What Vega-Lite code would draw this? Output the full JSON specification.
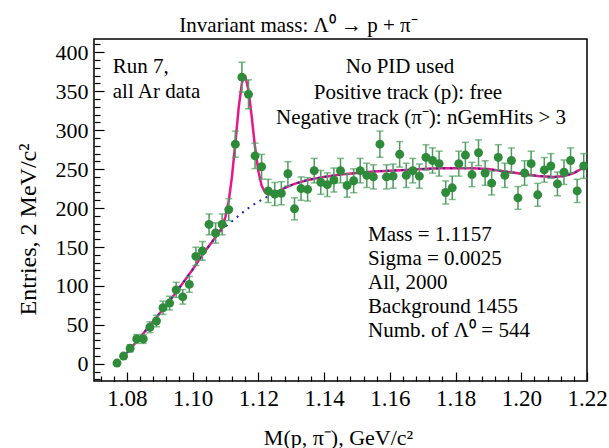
{
  "$schema": "https://vega.github.io/schema/vega-lite/v6.json",
  "width": 493,
  "height": 342,
  "autosize": {"type": "none"},
  "padding": {"left": 94, "top": 39, "right": 22, "bottom": 67},
  "background": "white",
  "config": {
    "view": {"stroke": "#000000", "strokeWidth": 1.5},
    "font": "Liberation Serif"
  },
  "title": {
    "text": "Invariant mass: Λ⁰ → p + π⁻",
    "font": "Liberation Serif",
    "fontSize": 21,
    "fontWeight": "normal",
    "color": "#000000",
    "anchor": "middle",
    "dx": -42,
    "dy": 28,
    "offset": 8,
    "baseline": "alphabetic"
  },
  "datasets": {
    "pts": [
      {"x": 1.077, "y": 1, "e": 1.0}, {"x": 1.079, "y": 10, "e": 3.2}, {"x": 1.081, "y": 20, "e": 4.5},
      {"x": 1.083, "y": 32, "e": 5.7}, {"x": 1.085, "y": 32, "e": 5.7}, {"x": 1.087, "y": 47, "e": 6.9},
      {"x": 1.089, "y": 55, "e": 7.4}, {"x": 1.091, "y": 72, "e": 8.5}, {"x": 1.093, "y": 78, "e": 8.8},
      {"x": 1.095, "y": 95, "e": 9.7}, {"x": 1.097, "y": 86, "e": 9.3}, {"x": 1.099, "y": 102, "e": 10.1},
      {"x": 1.101, "y": 138, "e": 11.7}, {"x": 1.103, "y": 145, "e": 12.0}, {"x": 1.105, "y": 179, "e": 13.4},
      {"x": 1.107, "y": 168, "e": 13.0}, {"x": 1.109, "y": 179, "e": 13.4}, {"x": 1.111, "y": 198, "e": 14.1},
      {"x": 1.113, "y": 282, "e": 16.8}, {"x": 1.115, "y": 368, "e": 19.2}, {"x": 1.117, "y": 346, "e": 18.6},
      {"x": 1.119, "y": 267, "e": 16.3}, {"x": 1.121, "y": 253, "e": 15.9}, {"x": 1.123, "y": 222, "e": 14.9},
      {"x": 1.125, "y": 218, "e": 14.8}, {"x": 1.127, "y": 219, "e": 14.8}, {"x": 1.129, "y": 244, "e": 15.6},
      {"x": 1.131, "y": 199, "e": 14.1}, {"x": 1.133, "y": 225, "e": 15.0}, {"x": 1.135, "y": 224, "e": 15.0},
      {"x": 1.137, "y": 248, "e": 15.7}, {"x": 1.139, "y": 233, "e": 15.3}, {"x": 1.141, "y": 230, "e": 15.2},
      {"x": 1.143, "y": 236, "e": 15.4}, {"x": 1.145, "y": 248, "e": 15.7}, {"x": 1.147, "y": 229, "e": 15.1},
      {"x": 1.149, "y": 235, "e": 15.3}, {"x": 1.151, "y": 248, "e": 15.7}, {"x": 1.153, "y": 242, "e": 15.6},
      {"x": 1.155, "y": 240, "e": 15.5}, {"x": 1.157, "y": 282, "e": 16.8}, {"x": 1.159, "y": 240, "e": 15.5},
      {"x": 1.161, "y": 241, "e": 15.5}, {"x": 1.163, "y": 269, "e": 16.4}, {"x": 1.165, "y": 242, "e": 15.6},
      {"x": 1.167, "y": 248, "e": 15.7}, {"x": 1.169, "y": 241, "e": 15.5}, {"x": 1.171, "y": 265, "e": 16.3},
      {"x": 1.173, "y": 261, "e": 16.2}, {"x": 1.175, "y": 257, "e": 16.0}, {"x": 1.177, "y": 220, "e": 14.8},
      {"x": 1.179, "y": 226, "e": 15.0}, {"x": 1.181, "y": 257, "e": 16.0}, {"x": 1.183, "y": 268, "e": 16.4},
      {"x": 1.185, "y": 243, "e": 15.6}, {"x": 1.187, "y": 271, "e": 16.5}, {"x": 1.189, "y": 245, "e": 15.7},
      {"x": 1.191, "y": 232, "e": 15.2}, {"x": 1.193, "y": 265, "e": 16.3}, {"x": 1.195, "y": 242, "e": 15.6},
      {"x": 1.197, "y": 261, "e": 16.2}, {"x": 1.199, "y": 213, "e": 14.6}, {"x": 1.201, "y": 245, "e": 15.7},
      {"x": 1.203, "y": 257, "e": 16.0}, {"x": 1.205, "y": 217, "e": 14.7}, {"x": 1.207, "y": 249, "e": 15.8},
      {"x": 1.209, "y": 254, "e": 15.9}, {"x": 1.211, "y": 231, "e": 15.2}, {"x": 1.213, "y": 246, "e": 15.7},
      {"x": 1.215, "y": 261, "e": 16.2}, {"x": 1.217, "y": 222, "e": 14.9}, {"x": 1.219, "y": 254, "e": 15.9}
    ],
    "fit": [
      {"x": 1.080, "y": 14}, {"x": 1.085, "y": 39}, {"x": 1.090, "y": 65}, {"x": 1.095, "y": 92},
      {"x": 1.100, "y": 121}, {"x": 1.103, "y": 140}, {"x": 1.106, "y": 157}, {"x": 1.108, "y": 168.5},
      {"x": 1.109, "y": 176}, {"x": 1.110, "y": 189}, {"x": 1.111, "y": 209}, {"x": 1.112, "y": 241},
      {"x": 1.113, "y": 283.5}, {"x": 1.114, "y": 328}, {"x": 1.115, "y": 360.5}, {"x": 1.1157, "y": 369.6},
      {"x": 1.116, "y": 369.4}, {"x": 1.117, "y": 351.6}, {"x": 1.118, "y": 316.7}, {"x": 1.119, "y": 278},
      {"x": 1.120, "y": 247.5}, {"x": 1.121, "y": 229}, {"x": 1.122, "y": 220.3}, {"x": 1.123, "y": 217.4},
      {"x": 1.124, "y": 217.7}, {"x": 1.125, "y": 219}, {"x": 1.128, "y": 226}, {"x": 1.131, "y": 231},
      {"x": 1.135, "y": 236}, {"x": 1.140, "y": 240}, {"x": 1.145, "y": 243}, {"x": 1.150, "y": 245},
      {"x": 1.155, "y": 247}, {"x": 1.160, "y": 248}, {"x": 1.165, "y": 249}, {"x": 1.170, "y": 250},
      {"x": 1.175, "y": 251}, {"x": 1.180, "y": 251}, {"x": 1.185, "y": 251}, {"x": 1.190, "y": 250},
      {"x": 1.195, "y": 247}, {"x": 1.200, "y": 244}, {"x": 1.205, "y": 241}, {"x": 1.210, "y": 240},
      {"x": 1.213, "y": 241}, {"x": 1.216, "y": 245}, {"x": 1.219, "y": 252}, {"x": 1.220, "y": 255}
    ],
    "bg": [
      {"x": 1.080, "y": 14}, {"x": 1.085, "y": 39}, {"x": 1.090, "y": 65}, {"x": 1.095, "y": 92},
      {"x": 1.100, "y": 121}, {"x": 1.103, "y": 140}, {"x": 1.106, "y": 157}, {"x": 1.108, "y": 167},
      {"x": 1.110, "y": 176}, {"x": 1.112, "y": 183}, {"x": 1.114, "y": 190}, {"x": 1.116, "y": 197},
      {"x": 1.118, "y": 203}, {"x": 1.120, "y": 208}, {"x": 1.122, "y": 213}, {"x": 1.125, "y": 219},
      {"x": 1.128, "y": 226}, {"x": 1.131, "y": 231}, {"x": 1.135, "y": 236}, {"x": 1.140, "y": 240},
      {"x": 1.145, "y": 243}, {"x": 1.150, "y": 245}, {"x": 1.155, "y": 247}, {"x": 1.160, "y": 248},
      {"x": 1.165, "y": 249}, {"x": 1.170, "y": 250}, {"x": 1.175, "y": 251}, {"x": 1.180, "y": 251},
      {"x": 1.185, "y": 251}, {"x": 1.190, "y": 250}, {"x": 1.195, "y": 247}, {"x": 1.200, "y": 244},
      {"x": 1.205, "y": 241}, {"x": 1.210, "y": 240}, {"x": 1.213, "y": 241}, {"x": 1.216, "y": 245},
      {"x": 1.219, "y": 252}, {"x": 1.220, "y": 255}
    ],
    "notesLeft": [
      {"x": 1.0757, "y": 373.4, "t": "Run 7,"},
      {"x": 1.0757, "y": 341.9, "t": "all Ar data"},
      {"x": 1.1534, "y": 157.7, "t": "Mass = 1.1157"},
      {"x": 1.1534, "y": 126.9, "t": "Sigma = 0.0025"},
      {"x": 1.1534, "y": 96.1, "t": "All, 2000"},
      {"x": 1.1534, "y": 65.3, "t": "Background 1455"},
      {"x": 1.1534, "y": 34.5, "t": "Numb. of Λ⁰ = 544"}
    ],
    "notesCenter": [
      {"x": 1.1631, "y": 373.4, "t": "No PID used"},
      {"x": 1.1655, "y": 340.0, "t": "Positive track (p): free"},
      {"x": 1.1695, "y": 308.5, "t": "Negative track (π⁻): nGemHits > 3"}
    ]
  },
  "encoding": {
    "x": {
      "field": "x",
      "type": "quantitative",
      "scale": {"domain": [1.07, 1.22], "nice": false, "zero": false},
      "axis": {
        "values": [1.072, 1.076, 1.08, 1.084, 1.088, 1.092, 1.096, 1.1, 1.104, 1.108, 1.112, 1.116, 1.12, 1.124, 1.128, 1.132, 1.136, 1.14, 1.144, 1.148, 1.152, 1.156, 1.16, 1.164, 1.168, 1.172, 1.176, 1.18, 1.184, 1.188, 1.192, 1.196, 1.2, 1.204, 1.208, 1.212, 1.216, 1.22],
        "labelExpr": "abs(round(datum.value*1000) % 20) == 0 ? format(datum.value, '.2f') : ''",
        "tickSize": {"condition": {"test": "abs(round(datum.value*1000) % 20) == 0", "value": -9}, "value": -5},
        "tickColor": "#000000",
        "tickWidth": 1.2,
        "domain": false,
        "grid": false,
        "labelFont": "Liberation Serif",
        "labelFontSize": 23,
        "labelColor": "#000000",
        "labelPadding": 15,
        "labelOverlap": false,
        "labelFlush": false,
        "title": "M(p, π⁻), GeV/c²",
        "titleFont": "Liberation Serif",
        "titleFontSize": 22,
        "titleFontWeight": "normal",
        "titleColor": "#000000",
        "titleBaseline": "alphabetic",
        "titleX": 244,
        "titleY": 63
      }
    },
    "y": {
      "field": "y",
      "type": "quantitative",
      "scale": {"domain": [-22, 417], "nice": false, "zero": false},
      "axis": {
        "values": [-20, -10, 0, 10, 20, 30, 40, 50, 60, 70, 80, 90, 100, 110, 120, 130, 140, 150, 160, 170, 180, 190, 200, 210, 220, 230, 240, 250, 260, 270, 280, 290, 300, 310, 320, 330, 340, 350, 360, 370, 380, 390, 400, 410],
        "labelExpr": "datum.value % 50 == 0 ? format(datum.value, 'd') : ''",
        "tickSize": {"condition": {"test": "datum.value % 50 == 0", "value": -10}, "value": -6},
        "tickColor": "#000000",
        "tickWidth": 1.2,
        "domain": false,
        "grid": false,
        "labelFont": "Liberation Serif",
        "labelFontSize": 22,
        "labelColor": "#000000",
        "labelPadding": 16,
        "labelOverlap": false,
        "labelFlush": false,
        "title": "Entries, 2 MeV/c²",
        "titleFont": "Liberation Serif",
        "titleFontSize": 24,
        "titleFontWeight": "normal",
        "titleColor": "#000000",
        "titleBaseline": "alphabetic",
        "titleX": -59,
        "titleY": 190
      }
    }
  },
  "layer": [
    {
      "data": {"name": "fit"},
      "mark": {"type": "line", "color": "#e8178a", "strokeWidth": 2.5, "clip": true}
    },
    {
      "data": {"name": "bg"},
      "mark": {"type": "line", "color": "#2a2aa0", "strokeWidth": 2, "strokeDash": [2, 5], "clip": true}
    },
    {
      "data": {"name": "pts"},
      "mark": {"type": "errorbar", "ticks": true, "size": 7, "thickness": 1.5, "color": "#4c9c5c"},
      "encoding": {"yError": {"field": "e"}}
    },
    {
      "data": {"name": "pts"},
      "mark": {"type": "circle", "size": 80, "color": "#2e8b3a", "opacity": 1}
    },
    {
      "data": {"name": "notesLeft"},
      "mark": {"type": "text", "align": "left", "baseline": "alphabetic", "font": "Liberation Serif", "fontSize": 21, "color": "#000000"},
      "encoding": {"text": {"field": "t"}}
    },
    {
      "data": {"name": "notesCenter"},
      "mark": {"type": "text", "align": "center", "baseline": "alphabetic", "font": "Liberation Serif", "fontSize": 21, "color": "#000000"},
      "encoding": {"text": {"field": "t"}}
    }
  ]
}
